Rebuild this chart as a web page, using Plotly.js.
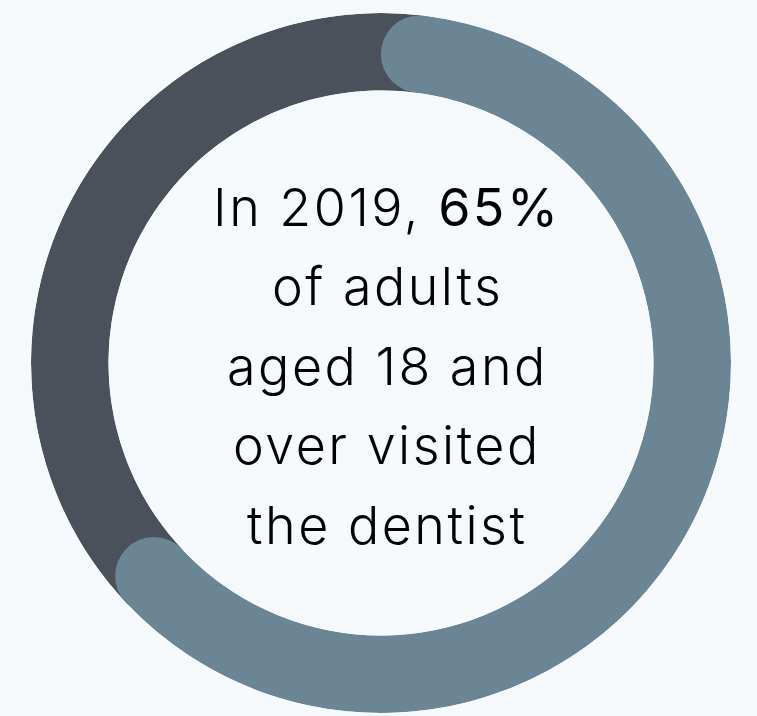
<!DOCTYPE html>
<html>
<head>
<meta charset="utf-8">
<script src="https://cdn.plot.ly/plotly-3.0.1.min.js"></script>
<style>
  html, body { margin: 0; padding: 0; background: #f5f9fc; }
  #chart { width: 757px; height: 716px; }
  text.annotation-text { letter-spacing: 2.5px; }
</style>
</head>
<body>
<div id="chart"></div>
<script>
// ---- data ----
const categories = ['Visited the dentist', 'Did not visit'];
const percentValues = [65, 35];
const textLines = ['In 2019, <span style="font-weight:400">65%</span>', 'of adults', 'aged 18 and', 'over visited', 'the dentist'];

// ---- style ----
const colors = ['#6b8594', '#4a515a'];
const W = 757, H = 716;
const cx = 381, cy = 363, outerR = 350, innerR = 272.5;
const thickness = outerR - innerR;
const midR = (outerR + innerR) / 2;
const capDeg = (thickness / 2) / midR * 180 / Math.PI;

const total = percentValues.reduce((a, b) => a + b, 0);
const spanVisit = percentValues[0] / total * 360;
const spanNot = percentValues[1] / total * 360;

// dark segment (extends under the rounded caps)
const darkTrace = {
  type: 'barpolar',
  name: categories[1],
  r: [1], base: [0],
  theta: [spanVisit + spanNot / 2],
  width: [spanNot + 2 * capDeg],
  marker: { color: colors[1], line: { width: 0 } },
  hoverinfo: 'skip', showlegend: false
};
// main segment (minus the caps)
const mainTrace = {
  type: 'barpolar',
  name: categories[0],
  r: [1], base: [0],
  theta: [spanVisit / 2],
  width: [spanVisit - 2 * capDeg],
  marker: { color: colors[0], line: { width: 0 } },
  hoverinfo: 'skip', showlegend: false
};
// rounded caps
const capTrace = {
  type: 'scatterpolar',
  mode: 'markers',
  r: [0.5, 0.5],
  theta: [capDeg, spanVisit - capDeg],
  marker: { color: colors[0], size: thickness, line: { width: 0 } },
  hoverinfo: 'skip', showlegend: false
};

const lineSpacing = 79.5, firstBaseline = 230, fontSize = 52;
const annotations = textLines.map((t, i) => ({
  text: t,
  x: 387 / W, xref: 'paper', xanchor: 'center',
  y: 1 - (firstBaseline + i * lineSpacing - 0.3 * fontSize - 7) / H, yref: 'paper', yanchor: 'middle',
  showarrow: false,
  font: { family: 'Inter, Open Sans, sans-serif', size: fontSize, color: '#000000', weight: 300 }
}));

const layout = {
  width: W, height: H,
  margin: { l: 0, r: 0, t: 0, b: 0 },
  paper_bgcolor: '#f5f9fc',
  plot_bgcolor: '#f5f9fc',
  showlegend: false,
  polar: {
    domain: { x: [(cx - outerR) / W, (cx + outerR) / W], y: [(H - cy - outerR) / H, (H - cy + outerR) / H] },
    hole: innerR / outerR,
    bgcolor: 'rgba(0,0,0,0)',
    bargap: 0,
    radialaxis: { range: [0, 1], visible: false, showgrid: false },
    angularaxis: { rotation: 90, direction: 'clockwise', visible: false, showgrid: false }
  },
  annotations: annotations
};

Plotly.newPlot('chart', [darkTrace, mainTrace, capTrace], layout, { displayModeBar: false, staticPlot: true });
</script>
</body>
</html>
